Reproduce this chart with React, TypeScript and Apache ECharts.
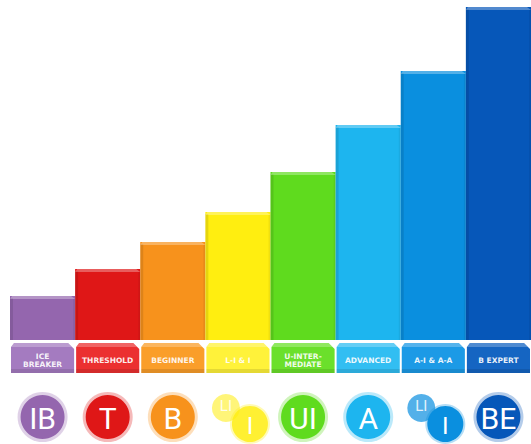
import React, { useEffect, useRef } from "react";
import * as echarts from "echarts";

const levels = ["ICE\nBREAKER", "THRESHOLD", "BEGINNER", "L-I & I", "U-INTER-\nMEDIATE", "ADVANCED", "A-I & A-A", "B EXPERT"];
const values = [44, 71, 98, 128, 168, 215, 269, 333];
const badges = [["IB"], ["T"], ["B"], ["LI", "I"], ["UI"], ["A"], ["LI", "I"], ["BE"]];
const palette = ["#9466AE", "#DF1717", "#F7921C", "#FFEE10", "#5FDB1E", "#1DB5EF", "#0A8FDF", "#0657B9"];
const platePalette = ["#A47BC0", "#EB3030", "#FA9E2A", "#FFF23A", "#6BE02B", "#32BEF2", "#1C9AE6", "#1565C2"];

export default function App() {
  const ref = useRef<HTMLDivElement>(null);
  useEffect(() => {
    document.body.style.margin = "0";
    const chart = echarts.init(ref.current!, null, { renderer: "svg" });
    const renderItem = (params: any, api: any) => {
      const i = api.value(0);
      const v = api.value(1);
      const top = api.coord([i, v]);
      const base = api.coord([i, 0]);
      const w = api.size([1, 0])[0];
      const x0 = base[0] - w / 2;
      const x1 = base[0] + w / 2;
      const cx = base[0];
      const h = base[1] - top[1];
      const col = palette[i];
      const pcol = platePalette[i];
      const children: any[] = [
        { type: "rect", shape: { x: x0, y: top[1], width: w, height: h }, style: { fill: col } },
        { type: "rect", shape: { x: x0, y: top[1] + 2, width: 3, height: h - 2 }, style: { fill: "rgba(0,0,0,0.10)" } },
        { type: "polygon", shape: { points: [[x0, top[1] + 3], [x0 + 2, top[1]], [x1 - 4, top[1]], [x1, top[1] + 3]] }, style: { fill: "rgba(255,255,255,0.3)" } },
        { type: "rect", shape: { x: x1 - 2, y: top[1] + 3, width: 2, height: h - 3 }, style: { fill: "rgba(0,0,0,0.06)" } },
        { type: "polygon", shape: { points: [[x0 + 1, base[1] + 7], [x0 + 4, base[1] + 3], [x1 - 7, base[1] + 3], [x1 - 1, base[1] + 9], [x1 - 1, base[1] + 33], [x0 + 1, base[1] + 33]] }, style: { fill: pcol } },
        { type: "polygon", shape: { points: [[x0 + 1, base[1] + 7], [x0 + 4, base[1] + 3], [x1 - 7, base[1] + 3], [x1 - 3, base[1] + 7]] }, style: { fill: "rgba(255,255,255,0.25)" } },
        { type: "rect", shape: { x: x0 + 1, y: base[1] + 29, width: w - 2, height: 4 }, style: { fill: "rgba(0,0,0,0.10)" } },
        {
          type: "text",
          style: {
            text: levels[i], x: cx, y: base[1] + 20, align: "center", verticalAlign: "middle",
            fill: "rgba(255,255,255,0.92)", font: "bold 7.5px 'DejaVu Sans'", lineHeight: 8,
          },
        },
      ];
      const b = badges[i];
      const cy = base[1] + 77;
      if (b.length === 1) {
        children.push(
          { type: "circle", shape: { cx, cy, r: 25 }, style: { fill: col, opacity: 0.3 } },
          { type: "circle", shape: { cx, cy, r: 22 }, style: { fill: col } },
          { type: "text", style: { text: b[0], x: cx, y: cy + 1, align: "center", verticalAlign: "middle", fill: "#fff", font: "30px 'Liberation Sans Narrow', 'Roboto'" } }
        );
      } else {
        const sx = cx - 12, sy = cy - 9, lx = cx + 12, ly = cy + 7;
        const faint = i === 3 ? 0.8 : 1;
        children.push(
          { type: "circle", shape: { cx: sx, cy: sy, r: 14 }, style: { fill: col, opacity: 0.7 * faint } },
          { type: "text", style: { text: b[0], x: sx, y: sy - 2, align: "center", verticalAlign: "middle", fill: "rgba(255,255,255,0.85)", font: "15px 'Liberation Sans Narrow', 'Roboto'" } },
          { type: "circle", shape: { cx: lx, cy: ly, r: 20 }, style: { fill: col, opacity: 0.3 } },
          { type: "circle", shape: { cx: lx, cy: ly, r: 18 }, style: { fill: col, opacity: faint } },
          { type: "text", style: { text: b[1], x: lx, y: ly + 2, align: "center", verticalAlign: "middle", fill: "#fff", font: "24px 'Liberation Sans Narrow', 'Roboto'" } }
        );
      }
      return { type: "group", children };
    };
    chart.setOption({
      animation: false,
      grid: { left: 10, right: 0, top: 7, bottom: 104 },
      xAxis: { type: "category", data: levels, show: false },
      yAxis: { type: "value", min: 0, max: 333, show: false },
      series: [
        {
          type: "custom",
          renderItem,
          clip: false,
          data: values.map((v, i) => [i, v]),
        },
      ],
    });
    return () => chart.dispose();
  }, []);
  return <div ref={ref} style={{ width: 531, height: 444 }} />;
}
